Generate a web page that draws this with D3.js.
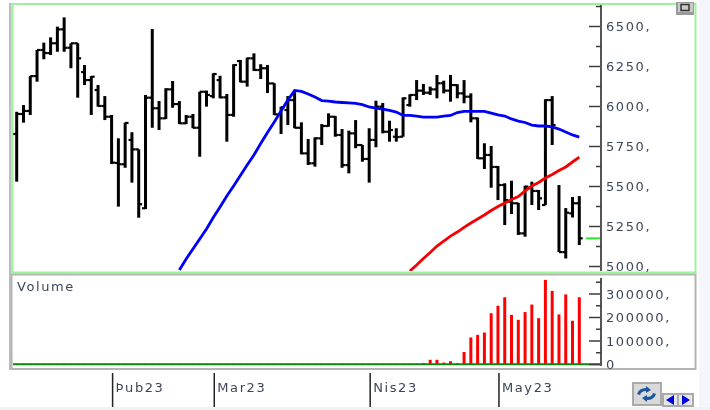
<!DOCTYPE html>
<html>
<head>
<meta charset="utf-8">
<script src="https://cdn.jsdelivr.net/npm/d3@7"></script>
<style>
body { margin: 0; background: #fff; }
svg { display: block; filter: blur(0.35px); }
text { font-family: "DejaVu Sans", sans-serif; fill: #3d4658; }
</style>
</head>
<body>
<div id="chart"></div>
<script>
// bar data, one entry per session
const barOpen = [5825,5950,5969,6187,6350,6331,6392,6479,6364,6392,6212,6162,6100,6000,5933,5644,5636,5788,5729,5361,6052,5986,5923,6104,6012,5892,5933,5864,6089,6062,6162,6054,5944,6281,6152,6298,6225,6236,6141,5948,5975,6037,5864,5704,5642,5798,5875,5933,5819,5631,5829,5756,5669,5788,5996,5839,5808,5808,6006,6069,6096,6083,6104,6142,6096,6131,6079,6058,5923,5673,5694,5619,5506,5402,5392,5204,5487,5469,5381,6037,null,5087,5329,5392];
const barHigh = [5964,6006,6187,6350,6396,6429,6496,6554,6392,6392,6256,6187,6131,6062,5944,5798,5896,5836,5729,6069,6481,6031,6111,6156,6031,5944,5950,6089,6096,6204,6189,6075,6261,6288,6302,6329,6261,6256,6142,5996,6062,6100,5898,5794,5804,5887,5954,5937,5856,5846,5912,5756,5861,6033,6019,5908,5861,6054,6073,6162,6138,6121,6194,6158,6194,6136,6162,6079,5928,5767,5750,5625,5517,5533,5394,5502,5527,5475,6042,6062,5506,5362,5431,5437];
const barLow = [5527,5896,5944,6152,6292,6319,6339,6339,6236,6052,6131,5944,5996,5912,5637,5371,5614,5521,5302,5356,5864,5850,5919,5989,5887,5887,5861,5683,5996,6048,6048,5777,5933,6148,6121,6219,6169,6081,5944,5825,5881,5861,5698,5631,5621,5756,5871,5808,5614,5579,5736,5652,5521,5742,5829,5777,5777,5808,5996,6037,6069,6069,6048,6079,6027,6048,6017,5898,5669,5606,5489,5412,5256,5325,5194,5183,5381,5350,5381,5756,5087,5047,5303,5131];
const barClose = [5950,5969,6187,6350,6331,6392,6479,6364,6392,6298,6162,6183,6000,5933,5646,5636,5894,5729,5386,6052,5986,5923,6104,6012,5892,5933,5864,6089,6069,6200,6054,5944,6256,6152,6298,6225,6236,6141,5948,5992,6037,5864,5704,5642,5798,5875,5933,5819,5631,5829,5756,5669,5788,5996,5839,5850,5806,6048,6069,6096,6083,6104,6142,6096,6131,6079,6058,5923,5673,5694,5619,5506,5412,5392,5204,5496,5469,5423,6037,5881,5087,5333,5392,5173];

// moving averages, they only start part way through the bars
const blueStart = 24;
const blueLine = [4975,5044,5106,5169,5231,5303,5369,5437,5500,5566,5631,5694,5766,5834,5900,5969,6037,6097,6091,6075,6056,6034,6031,6025,6022,6019,6016,6009,5994,5987,5981,5972,5962,5941,5941,5937,5931,5931,5931,5937,5941,5959,5966,5966,5966,5966,5956,5944,5937,5919,5906,5897,5881,5875,5875,5869,5856,5837,5819,5806];
const redStart = 58;
const redLine = [4969,5006,5047,5084,5125,5156,5187,5212,5241,5269,5294,5319,5347,5372,5394,5416,5434,5469,5500,5522,5550,5572,5597,5619,5650,5681];

const volume = [1000,1000,1000,1000,1000,1000,1000,1000,1000,1000,1000,1000,1000,1000,1000,1000,1000,1000,1000,1000,1000,1000,1000,1000,1000,1000,1000,1000,1000,1000,1000,1000,1000,1000,1000,1000,1000,1000,1000,1000,1000,1000,1000,1000,1000,1000,1000,1000,1000,1000,1000,1000,1000,1000,1000,1000,1000,1000,1000,1000,4000,18000,18000,6000,12000,3000,51000,113000,124000,134000,216000,248000,284000,209000,188000,221000,253000,195000,358000,311000,211000,296000,184000,284000];

const priceTicks = [6500,6250,6000,5750,5500,5250,5000];
const priceMinor = [6625,6375,6125,5875,5625,5375,5125];
const volumeTicks = [0,100000,200000,300000];
const volumeMinor = [50000,150000,250000,350000];
const monthLabels = ["Þub23","Mar23","Nis23","May23"];
const monthBars = [14,29,52,71];

const width = 710, height = 410;
const svg = d3.select("#chart").append("svg").attr("width", width).attr("height", height);

svg.append("rect").attr("x", 699).attr("y", 0).attr("width", 11).attr("height", height).attr("fill", "#f4f6fb");
svg.append("rect").attr("x", 0).attr("y", 407).attr("width", width).attr("height", 3).attr("fill", "#f0f2f6");
svg.append("rect").attr("x", 9).attr("y", 3).attr("width", 2.5).attr("height", 367).attr("fill", "#bdbdbd");

const x = d3.scaleLinear().domain([0, 83]).range([16.7, 579.3]);
const y = d3.scaleLinear().domain([5000, 6500]).range([266, 26]);
const yVol = d3.scaleLinear().domain([0, 300000]).range([364, 293.5]);

// panes
svg.append("rect").attr("x", 12.5).attr("y", 4).attr("width", 683).attr("height", 268.5)
    .attr("fill", "#fff").attr("stroke", "#9df29d").attr("stroke-width", 2);
svg.append("rect").attr("x", 11.5).attr("y", 274.5).attr("width", 684).attr("height", 94.5)
    .attr("fill", "#fff").attr("stroke", "#b4b4b4").attr("stroke-width", 2);

svg.append("defs").append("clipPath").attr("id", "price-clip").append("rect")
    .attr("x", 13).attr("y", 5).attr("width", 588).attr("height", 266);

const price = svg.append("g").attr("clip-path", "url(#price-clip)");

const bars = d3.range(barHigh.length);
const barStroke = "#000";

price.append("g").selectAll("line").data(bars).join("line")
    .attr("x1", d => x(d)).attr("x2", d => x(d))
    .attr("y1", d => y(barHigh[d])).attr("y2", d => y(barLow[d]))
    .attr("stroke", barStroke).attr("stroke-width", 3);
price.append("g").selectAll("line").data(bars.filter(d => barOpen[d] !== null)).join("line")
    .attr("x1", d => x(d) - 3.4).attr("x2", d => x(d))
    .attr("y1", d => y(barOpen[d])).attr("y2", d => y(barOpen[d]))
    .attr("stroke", barStroke).attr("stroke-width", 2.2);
price.append("g").selectAll("line").data(bars).join("line")
    .attr("x1", d => x(d)).attr("x2", d => x(d) + 3.4)
    .attr("y1", d => y(barClose[d])).attr("y2", d => y(barClose[d]))
    .attr("stroke", barStroke).attr("stroke-width", 2.2);

const lineFrom = start => d3.line().x((d, i) => x(start + i)).y(d => y(d));
price.append("path").attr("d", lineFrom(blueStart)(blueLine))
    .attr("fill", "none").attr("stroke", "#0000f5").attr("stroke-width", 2.8);
price.append("path").attr("d", lineFrom(redStart)(redLine))
    .attr("fill", "none").attr("stroke", "#f50000").attr("stroke-width", 2.8);

// last price marker on the axis
const lastClose = barClose[barClose.length - 1];
svg.append("line").attr("x1", 586).attr("x2", 601)
    .attr("y1", y(lastClose)).attr("y2", y(lastClose))
    .attr("stroke", "#2fe82f").attr("stroke-width", 2);

// volume pane
svg.append("g").selectAll("line").data(bars).join("line")
    .attr("x1", d => x(d)).attr("x2", d => x(d))
    .attr("y1", d => yVol(volume[d])).attr("y2", yVol(0))
    .attr("stroke", "#ff0000").attr("stroke-width", 3);
svg.append("line").attr("x1", 13).attr("x2", 601).attr("y1", 364.3).attr("y2", 364.3)
    .attr("stroke", "#0c860c").attr("stroke-width", 2);

svg.append("text").attr("class", "wide").attr("x", 17).attr("y", 291).text("Volume");

function styleAxis(g, tickLen, top, bottom) {
    g.select(".domain").remove();
    g.selectAll(".tick line").attr("x1", 0).attr("x2", -tickLen)
        .attr("stroke", "#3c3c3c").attr("stroke-width", 1.5);
    g.selectAll(".tick text").attr("class", "wide").attr("x", 5).attr("dy", "0.36em");
    g.append("line").attr("x1", 0).attr("x2", 0).attr("y1", top).attr("y2", bottom)
        .attr("stroke", "#555").attr("stroke-width", 2);
}

svg.append("g").attr("transform", "translate(601,0)")
    .call(d3.axisRight(y).tickValues(priceTicks).tickFormat(d => d + ","))
    .call(g => styleAxis(g, 12, 5, 271));
svg.append("g").attr("transform", "translate(601,0)")
    .call(d3.axisRight(y).tickValues(priceMinor).tickFormat(""))
    .call(g => styleAxis(g, 5, 5, 5));
svg.append("g").attr("transform", "translate(601,0)")
    .call(d3.axisRight(yVol).tickValues(volumeTicks).tickFormat(d => d === 0 ? "0" : d + ","))
    .call(g => styleAxis(g, 12, 278, 366));
svg.append("g").attr("transform", "translate(601,0)")
    .call(d3.axisRight(yVol).tickValues(volumeMinor).tickFormat(""))
    .call(g => styleAxis(g, 5, 278, 278));

// month markers
const months = svg.append("g").selectAll("g").data(monthBars).join("g")
    .attr("transform", d => `translate(${x(d) + 1},0)`);
months.append("line").attr("y1", 373).attr("y2", 407).attr("stroke", "#222").attr("stroke-width", 1.5);
months.append("text").attr("class", "wide").attr("x", 3).attr("y", 392).text((d, i) => monthLabels[i]);

svg.selectAll("text.wide").attr("font-size", 13).attr("letter-spacing", 1.6);

// chart window buttons
const corner = svg.append("g");
corner.append("rect").attr("x", 676).attr("y", 2).attr("width", 18).attr("height", 13).attr("fill", "#9a9a9a");
corner.append("rect").attr("x", 678).attr("y", 3).attr("width", 15).attr("height", 9).attr("fill", "#c9c9c9");
corner.append("rect").attr("x", 681).attr("y", 4.5).attr("width", 8).attr("height", 6).attr("fill", "none")
    .attr("stroke", "#333").attr("stroke-width", 1.5);

const nav = svg.append("g");
nav.append("rect").attr("x", 633).attr("y", 383).attr("width", 28).attr("height", 22)
    .attr("fill", "#d9d9d9").attr("stroke", "#aaa").attr("stroke-width", 2);
nav.append("path").attr("d", "M637,394 q2,-6 9,-6 l0,-2 l5,4 l-5,3 l0,-2 q-5,0 -6,4 z").attr("fill", "#1c559f");
nav.append("path").attr("d", "M656,394 q-2,6 -9,6 l0,2 l-5,-4 l5,-3 l0,2 q5,0 6,-4 z").attr("fill", "#1c559f");
nav.append("rect").attr("x", 663).attr("y", 394).attr("width", 15).attr("height", 12)
    .attr("fill", "#e6e6e6").attr("stroke", "#aaa").attr("stroke-width", 2);
nav.append("rect").attr("x", 678).attr("y", 394).attr("width", 15).attr("height", 12)
    .attr("fill", "#e6e6e6").attr("stroke", "#aaa").attr("stroke-width", 2);
nav.append("path").attr("d", "M666,400 l8,-5 l0,10 z").attr("fill", "#0000e0");
nav.append("path").attr("d", "M690,400 l-8,-5 l0,10 z").attr("fill", "#0000e0");
</script>
</body>
</html>
